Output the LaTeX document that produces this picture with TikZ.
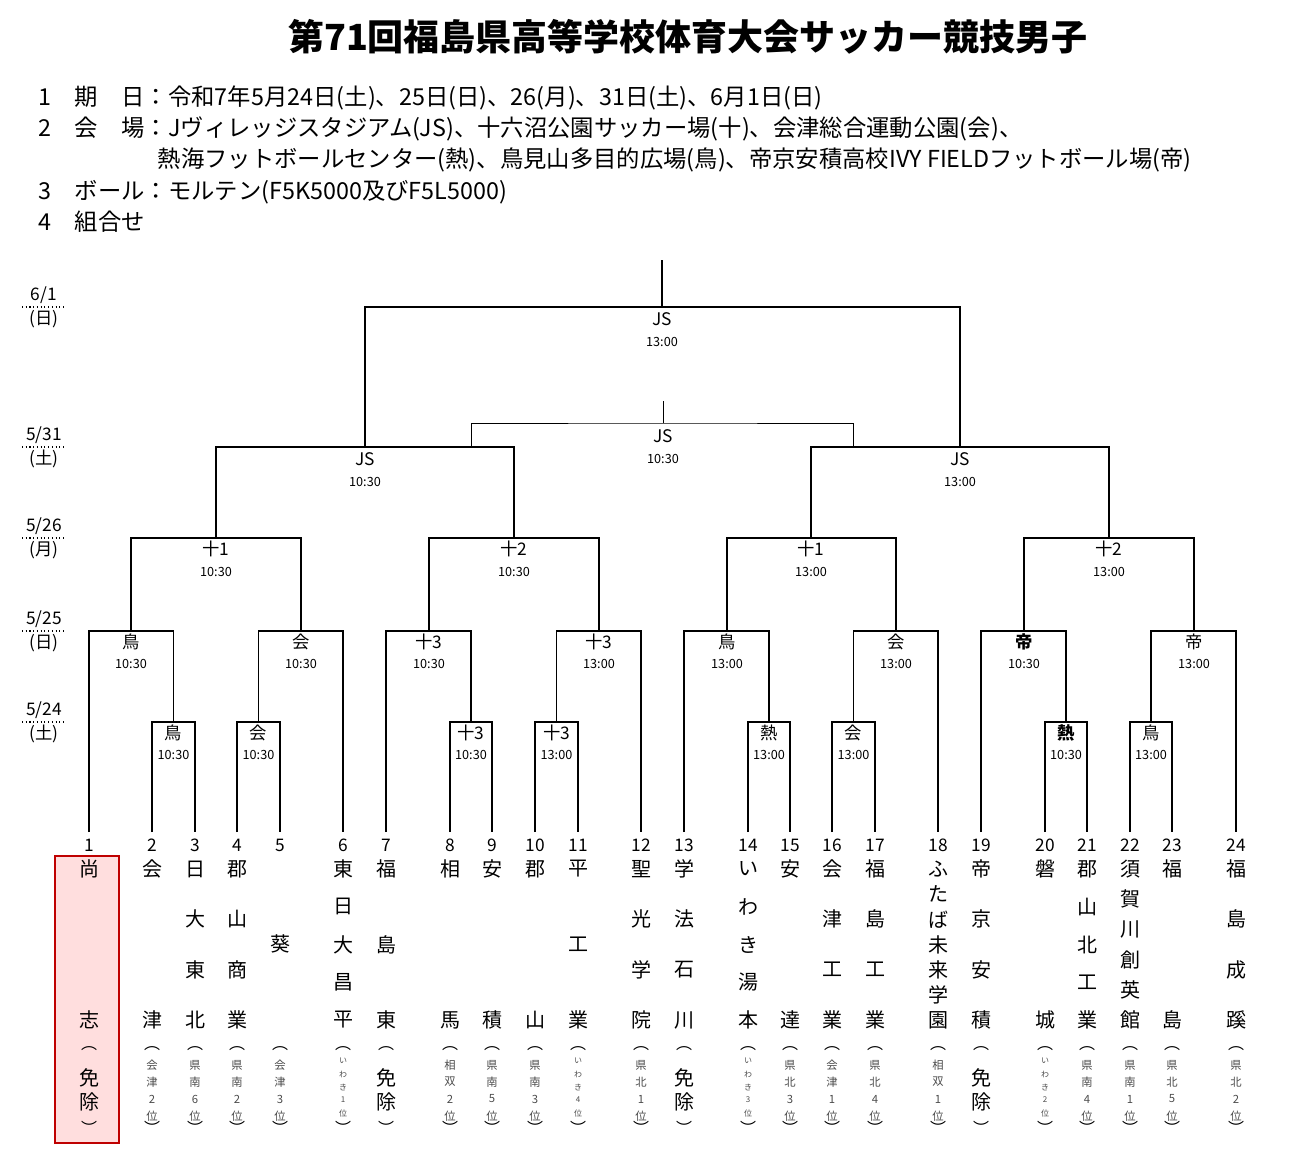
\documentclass[tikz,border=0pt]{standalone}
\usepackage{fontspec}
\setmainfont{Noto Sans CJK JP}
\usetikzlibrary{positioning}
\tikzset{
  bracket/.style={line width=1.3pt},
  thinline/.style={line width=0.7pt},
  venue/.style={font=\fontsize{13}{13}\selectfont, anchor=center},
  kickoff/.style={font=\fontsize{9.5}{10}\selectfont, anchor=center},
  datelabel/.style={font=\fontsize{13}{13}\selectfont},
  headline/.style={anchor=west, font=\fontsize{17.5}{17.5}\selectfont}
}
\begin{document}
\begin{tikzpicture}[x=0.75pt,y=-0.75pt]
	\useasboundingbox (0,0) rectangle (1298,1173);
	%Title and header
	\node (title) at (688,37) {\fontsize{27}{27}\selectfont\bfseries 第71回福島県高等学校体育大会サッカー競技男子};
	\node[headline] (info1) at (34,98) {1　期　日：令和7年5月24日(土)、25日(日)、26(月)、31日(土)、6月1日(日)};
	\node[headline] (info2) at (34,129) {2　会　場：Jヴィレッジスタジアム(JS)、十六沼公園サッカー場(十)、会津総合運動公園(会)、};
	\node[headline] (info2b) at (153,160) {熱海フットボールセンター(熱)、鳥見山多目的広場(鳥)、帝京安積高校IVY FIELDフットボール場(帝)};
	\node[headline] (info3) at (34,192) {3　ボール：モルテン(F5K5000及びF5L5000)};
	\node[headline] (info4) at (34,222) {4　組合せ};

	%Dates at the left
	\foreach \d/\w/\y in {{6/1}/日/307, {5/31}/土/447, {5/26}/月/538, {5/25}/日/631, {5/24}/土/722}{
		\node[datelabel] at (44,\y-12) {\d};
		\draw[dotted, thick] (22,\y) -- (66,\y);
		\node[datelabel] at (44,\y+12) {(\w)};
	}

	%Seed box of team 1
	\draw[fill=red!13, draw=red!75!black, line width=1.4pt] (55,856) rectangle (119,1143);

	%Teams: number, x, name letters, count, note letters, count
	\foreach \i/\x/\nm/\n/\nt/\m in {
		1/89/{尚,志}/2/{免,除}/2, 2/152/{会,津}/2/{会,津,2,位}/4,
		3/195/{日,大,東,北}/4/{県,南,6,位}/4, 4/237/{郡,山,商,業}/4/{県,南,2,位}/4,
		5/280/{葵}/1/{会,津,3,位}/4, 6/343/{東,日,大,昌,平}/5/{い,わ,き,1,位}/5,
		7/386/{福,島,東}/3/{免,除}/2, 8/450/{相,馬}/2/{相,双,2,位}/4,
		9/492/{安,積}/2/{県,南,5,位}/4, 10/535/{郡,山}/2/{県,南,3,位}/4,
		11/578/{平,工,業}/3/{い,わ,き,4,位}/5, 12/641/{聖,光,学,院}/4/{県,北,1,位}/4,
		13/684/{学,法,石,川}/4/{免,除}/2, 14/748/{い,わ,き,湯,本}/5/{い,わ,き,3,位}/5,
		15/790/{安,達}/2/{県,北,3,位}/4, 16/832/{会,津,工,業}/4/{会,津,1,位}/4,
		17/875/{福,島,工,業}/4/{県,北,4,位}/4, 18/938/{ふ,た,ば,未,来,学,園}/7/{相,双,1,位}/4,
		19/981/{帝,京,安,積}/4/{免,除}/2, 20/1045/{磐,城}/2/{い,わ,き,2,位}/5,
		21/1087/{郡,山,北,工,業}/5/{県,南,4,位}/4, 22/1130/{須,賀,川,創,英,館}/6/{県,南,1,位}/4,
		23/1172/{福,島}/2/{県,北,5,位}/4, 24/1236/{福,島,成,蹊}/4/{県,北,2,位}/4}{
		\coordinate (t\i) at (\x,832);
		\node[font=\fontsize{13}{13}\selectfont] (num\i) at (\x,845) {\i};
		\foreach \c [count=\k] in \nm {
			\ifnum\n=1
				\node[font=\fontsize{15}{15}\selectfont] at (\x,944) {\c};
			\else
				\node[font=\fontsize{15}{15}\selectfont] at (\x,{869+(\k-1)*151/(\n-1)}) {\c};
			\fi
		}
		\node[font=\fontsize{12}{12}\selectfont] at (\x,1049) {︵};
		\node[font=\fontsize{12}{12}\selectfont] at (\x,1128) {︶};
		\foreach \c [count=\k] in \nt {
			\ifnum\m=2
				\node[font=\fontsize{15}{15}\selectfont] at (\x,{1078+(\k-1)*24}) {\c};
			\else\ifnum\m=4
				\node[font=\fontsize{8.5}{9}\selectfont, text=black!70] at (\x,{1065+(\k-1)*17}) {\c};
			\else
				\node[font=\fontsize{6}{6}\selectfont, text=black!70] at (\x,{1061+(\k-1)*13}) {\c};
			\fi\fi
		}
	}

	%First round 5/24
	\foreach \a/\b/\x/\v/\tm [count=\j] in {2/3/173.5/鳥/10:30, 4/5/258.5/会/10:30,
		8/9/471/十3/10:30, 10/11/556.5/十3/13:00, 14/15/769/熱/13:00,
		16/17/853.5/会/13:00, 20/21/1066/\textbf{熱}/10:30, 22/23/1151/鳥/13:00}{
		\coordinate (r\j) at (\x,722);
		\draw[bracket] (t\a) |- (r\j) -| (t\b);
		\node[venue] at (\x,733) {\v};
		\node[kickoff] at (\x,755) {\tm};
	}

	%Second round 5/25
	\draw[bracket] (t1) |- (131,631) coordinate (q1) -| (r1);
	\draw[bracket] (r2) |- (301,631) coordinate (q2) -| (t6);
	\draw[bracket] (t7) |- (429,631) coordinate (q3) -| (r3);
	\draw[bracket] (r4) |- (599,631) coordinate (q4) -| (t12);
	\draw[bracket] (t13) |- (727,631) coordinate (q5) -| (r5);
	\draw[bracket] (r6) |- (896,631) coordinate (q6) -| (t18);
	\draw[bracket] (t19) |- (1024,631) coordinate (q7) -| (r7);
	\draw[bracket] (r8) |- (1194,631) coordinate (q8) -| (t24);
	\foreach \j/\v/\tm in {1/鳥/10:30, 2/会/10:30, 3/十3/10:30, 4/十3/13:00,
		5/鳥/13:00, 6/会/13:00, 7/\textbf{帝}/10:30, 8/帝/13:00}{
		\node[venue] at ([yshift=-8.25pt]q\j) {\v};
		\node[kickoff] at ([yshift=-25pt]q\j) {\tm};
	}

	%Quarter finals 5/26
	\foreach \j/\a/\b/\x/\v/\tm in {1/1/2/216/十1/10:30, 2/3/4/514/十2/10:30,
		3/5/6/811/十1/13:00, 4/7/8/1109/十2/13:00}{
		\coordinate (k\j) at (\x,538);
		\draw[bracket] (q\a) |- (k\j) -| (q\b);
		\node[venue] at (\x,549) {\v};
		\node[kickoff] at (\x,572) {\tm};
	}

	%Semi finals 5/31
	\foreach \j/\a/\b/\x/\tm in {1/1/2/365/10:30, 2/3/4/960/13:00}{
		\coordinate (s\j) at (\x,447);
		\draw[bracket] (k\a) |- (s\j) -| (k\b);
		\node[venue] at (\x,459) {JS};
		\node[kickoff] at (\x,482) {\tm};
	}

	%Third place match
	\coordinate (th1) at (471,447);
	\coordinate (th2) at (853,447);
	\coordinate (th) at (663,423);
	\coordinate (thtop) at (663,401);
	\draw[thinline] (th1) |- (th) -| (th2);
	\draw[thinline] (th) -- (thtop);
	\node[venue] at (663,436) {JS};
	\node[kickoff] at (663,459) {10:30};

	%Final 6/1
	\coordinate (fin) at (662,307);
	\coordinate (champ) at (662,260);
	\draw[bracket] (s1) |- (fin) -| (s2);
	\draw[bracket] (fin) -- (champ);
	\node[venue] at (662,319) {JS};
	\node[kickoff] at (662,342) {13:00};
\end{tikzpicture}
\end{document}
